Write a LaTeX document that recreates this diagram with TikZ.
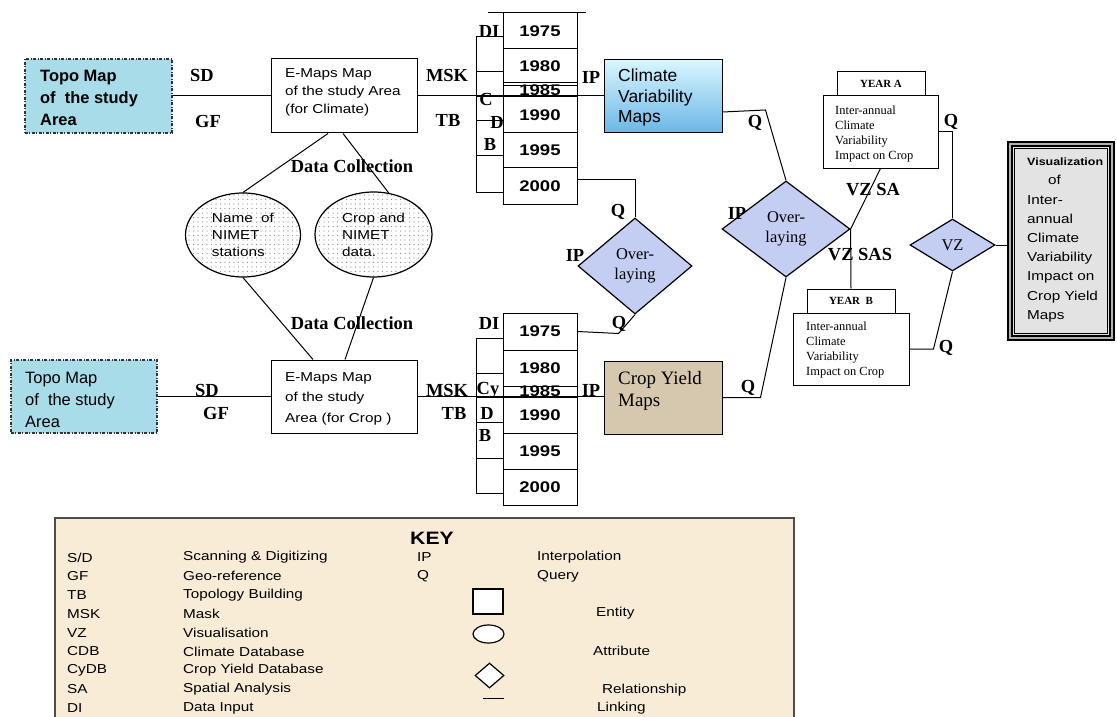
\documentclass[tikz,border=0pt]{standalone}
\usepackage{fontspec}
\setmainfont{Liberation Serif}
\setsansfont{Liberation Sans}
\newfontfamily\wsans[FakeStretch=1.18]{Liberation Sans}
\newfontfamily\yrsans[FakeStretch=1.2]{Liberation Sans}
\usetikzlibrary{shapes.geometric,patterns,patterns.meta,calc}
\definecolor{topoc}{HTML}{A8DCE8}
\definecolor{climT}{HTML}{D8F6FF}
\definecolor{climB}{HTML}{6CB6E6}
\definecolor{cropc}{HTML}{D6C8AE}
\definecolor{diac}{HTML}{C4CDF2}
\definecolor{keyc}{HTML}{F8ECD7}
\definecolor{visc}{HTML}{E3E3E3}
\begin{document}
\begin{tikzpicture}[x=1bp,y=-1bp,
  ln/.style={line width=1bp},
  sz/.style 2 args={minimum width=#1bp, minimum height=#2bp},
  ent/.style={draw, line width=1bp, fill=white, inner sep=0pt},
  topo/.style={draw=black!80, line width=1.5bp, dash pattern=on 3bp off 1.5bp on 1bp off 1.5bp, fill=topoc, inner sep=0pt},
  txt/.style={anchor=west, align=left, inner sep=0pt},
  lab/.style={inner sep=0pt, font=\bfseries\fontsize{18.5}{20}\selectfont},
  yr/.style={ent, minimum width=74bp, font=\yrsans\bfseries\fontsize{15.5}{16}\selectfont},
  sidecell/.style={ent, minimum width=27bp},
  dia/.style={diamond, draw, line width=1.2bp, fill=diac, inner sep=0pt, align=center, font=\fontsize{16.5}{19.5}\selectfont},
  attr/.style={ellipse, draw, line width=1.2bp, preaction={fill=white}, pattern={Dots[distance=4.5bp, radius=0.55bp]}, pattern color=gray!90, inner sep=0pt, align=left, font=\wsans\fontsize{13}{17}\selectfont},
  keytxt/.style={anchor=west, inner sep=0pt, font=\wsans\fontsize{13}{14}\selectfont},
  smallserif/.style={font=\fontsize{12.5}{15.3}\selectfont},
]
\fill[white] (0,0) rectangle (1117,717);
\useasboundingbox (0,0) rectangle (1117,717);

% ---------- top row (climate) ----------
\node[topo, sz={147}{74}] (topoA) at (98.5,96) {};
\node[txt, font=\sffamily\bfseries\fontsize{16.5}{22}\selectfont] (topoAt) at (40,98) {Topo Map\\of\ \ the study\\Area};
\node[ent, sz={146}{74}] (emA) at (344,96) {};
\node[txt, font=\wsans\fontsize{13}{18}\selectfont] (emAt) at (285,92) {E-Maps Map\\of the study Area\\(for Climate)};
\node[draw, line width=1bp, top color=climT, bottom color=climB, inner sep=0pt, sz={118}{73}] (climate) at (663,96.5) {};
\node[txt, font=\sffamily\fontsize{17.5}{20.5}\selectfont] (climatet) at (618,97.5) {Climate\\Variability\\Maps};

% year stack (climate)
\node[yr, minimum height=36bp] (t75) at (540,31) {1975};
\node[yr, minimum height=34bp] (t80) at (540,66) {1980};
\node[yr, minimum height=14bp] (t85) at (540,90) {1985};
\node[yr, minimum height=36bp] (t90) at (540,115) {1990};
\node[yr, minimum height=35bp] (t95) at (540,150.5) {1995};
\node[yr, minimum height=36bp] (t00) at (540,186) {2000};
\node[sidecell, minimum height=35bp] (sa1) at (489.5,54.5) {};
\node[sidecell, minimum height=25bp] (sa2) at (489.5,84.5) {};
\node[sidecell, minimum height=24bp] (sa3) at (489.5,109) {};
\node[sidecell, minimum height=35bp] (sa4) at (489.5,138.5) {};
\node[sidecell, minimum height=36bp] (sa5) at (489.5,174) {};
\draw[ln] ([xshift=-15bp]t75.north west) -- ([xshift=8bp]t75.north east);
\draw[ln] ([yshift=-3bp]t85.north west) -- ([yshift=-3bp]t85.north east);

% ---------- bottom row (crop) ----------
\node[topo, sz={146}{73}] (topoB) at (84,396.5) {};
\node[txt, font=\sffamily\fontsize{16.5}{22}\selectfont] (topoBt) at (25,400) {Topo Map\\of\ \ the study\\Area};
\node[ent, sz={146}{73}] (emB) at (344,396.5) {};
\node[txt, font=\wsans\fontsize{13}{20.5}\selectfont] (emBt) at (285,398.5) {E-Maps Map\\of the study\\Area (for Crop )};
\node[draw, line width=1bp, fill=cropc, inner sep=0pt, sz={118}{73}] (crop) at (663,397.5) {};
\node[txt, font=\fontsize{19}{22}\selectfont] (cropt) at (618,391) {Crop Yield\\Maps};

\node[yr, minimum height=37bp] (b75) at (540,331.5) {1975};
\node[yr, minimum height=36bp] (b80) at (540,368) {1980};
\node[yr, minimum height=11bp] (b85) at (540,391.5) {1985};
\node[yr, minimum height=36bp] (b90) at (540,415) {1990};
\node[yr, minimum height=36bp] (b95) at (540,451) {1995};
\node[yr, minimum height=36bp] (b00) at (540,487) {2000};
\node[sidecell, minimum height=35bp] (sb1) at (489.5,355.5) {};
\node[sidecell, minimum height=24bp] (sb2) at (489.5,385) {};
\node[sidecell, minimum height=25bp] (sb3) at (489.5,409.5) {};
\node[sidecell, minimum height=36bp] (sb4) at (489.5,440) {};
\node[sidecell, minimum height=35bp] (sb5) at (489.5,475.5) {};

% ---------- attributes ----------
\node[attr, sz={115}{84}] (ellL) at (243,235) {Name\ \ of\\NIMET\\stations};
\node[attr, sz={117}{85}] (ellR) at (373.5,234.5) {Crop and\\NIMET\\data.};

% ---------- relationships ----------
\node[dia, sz={114}{96}] (ovM) at (635,266) {Over-\\laying};
\node[dia, sz={128}{96}] (ovR) at (786,229) {Over-\\laying};
\node[dia, sz={85}{52}] (vz) at (952.5,245) {VZ};

% ---------- year A / year B ----------
\node[ent, sz={88}{24}, font=\bfseries\fontsize{11}{12}\selectfont] (yearAtab) at (881,84) {YEAR A};
\node[ent, sz={115}{72}] (yearA) at (880.5,132) {};
\node[txt, smallserif] (yearAt) at (835,134) {Inter-annual\\Climate\\Variability\\Impact on Crop};
\node[ent, sz={88}{24}, font=\bfseries\fontsize{11}{12}\selectfont] (yearBtab) at (851,301) {YEAR\ \ B};
\node[ent, sz={116}{72}] (yearB) at (851,349) {};
\node[txt, smallserif] (yearBt) at (806,350) {Inter-annual\\Climate\\Variability\\Impact on Crop};

% ---------- visualization ----------
\node[draw, line width=1.3bp, double=gray!60, double distance=2.5bp, fill=visc, inner sep=0pt, sz={102}{194}] (vis) at (1061,241) {};
\draw[line width=0.8bp] ([shift={(5bp,-5bp)}]vis.north west) rectangle ([shift={(-5bp,5bp)}]vis.south east);
\node[txt, font=\wsans\fontsize{13}{19.3}\selectfont] (vist) at (1027,240) {{\bfseries\fontsize{10.6}{19.3}\selectfont Visualization}\\\hspace*{21bp}of\\Inter-\\annual\\Climate\\Variability\\Impact on\\Crop Yield\\Maps};

% ---------- connectors ----------
\draw[ln] (topoA) -- (emA);
\draw[ln] (emA.east) -- (emA.east -| climate.west);
\draw[ln] ([yshift=-15.5bp]climate.east) -- ++(43bp,2bp) -- (ovR.north);
\draw[ln] ([yshift=6bp]t00.east) -| (ovM.north);
\draw[ln] (b75.east) -- ++(41bp,-2bp) -- (ovM.south);
\draw[ln] (crop.east) -- ++(38bp,0) -- (ovR.south);
\draw[ln] (ovR.east) -- (yearA.south);
\draw[ln] (ovR.east) -- (yearBtab.north);
\draw[ln] (yearA.east) -| (vz.north);
\draw[ln] (vz.east) -- (vz.east -| vis.west);
\draw[ln] (yearB.east) -- ++(24bp,0) -- (vz.south);
\draw[ln] ([xshift=-16bp]emA.south) -- (ellL.north);
\draw[ln] ([xshift=-1bp]emA.south) -- (ellR.70);
\draw[ln] (ellL.south) -- ([xshift=-31bp]emB.north);
\draw[ln] (ellR.south) -- ([xshift=1bp]emB.north);
\draw[ln] (topoB) -- (emB);
\draw[ln] (emB.east) -- (emB.east -| crop.west);

% ---------- labels ----------
\node[lab] (lSDa) at (202,75) {SD};
\node[lab] (lGFa) at (208,121) {GF};
\node[lab] (lDCa) at (352,166) {Data Collection};
\node[lab] (lMSKa) at (447,75) {MSK};
\node[lab] (lTBa) at (448,120) {TB};
\node[lab] (lDIa) at (489,31) {DI};
\node[lab] (lCa) at (486,99) {C};
\node[lab] (lDa) at (497,122) {D};
\node[lab] (lBa) at (490,144) {B};
\node[lab] (lIPa) at (591,77) {IP};
\node[lab] (lQ1) at (755,123) {Q};
\node[lab] (lQ2) at (618,212) {Q};
\node[lab] (lIPm) at (575,255) {IP};
\node[lab] (lQ3) at (619,324) {Q};
\node[lab] (lIPr) at (737,213) {IP};
\node[lab] (lVZSA) at (873,190) {VZ SA};
\node[lab] (lVZSAS) at (860,255) {VZ SAS};
\node[lab] (lQ4) at (951,122) {Q};
\node[lab] (lQ5) at (946,348) {Q};
\node[lab] (lQ6) at (748,388) {Q};
\node[lab] (lSDb) at (207,390) {SD};
\node[lab] (lGFb) at (216,413) {GF};
\node[lab] (lDCb) at (352,323) {Data Collection};
\node[lab] (lDIb) at (489,323) {DI};
\node[lab] (lMSKb) at (447,390) {MSK};
\node[lab] (lCyb) at (488,390) {Cy};
\node[lab] (lTBb) at (454,413) {TB};
\node[lab] (lDb) at (487,413) {D};
\node[lab] (lBb) at (485,435) {B};
\node[lab] (lIPb) at (591,390) {IP};

% ---------- key ----------
\node[draw=black!70, line width=1.5bp, fill=keyc, inner sep=0pt, anchor=north west, sz={739}{215}] (keybox) at (54,517) {};
\node[inner sep=0pt, font=\wsans\bfseries\fontsize{18}{20}\selectfont] (keyt) at (432,538) {KEY};
\node[keytxt] (k1a) at (67,557.5) {S/D};
\node[keytxt] (k2a) at (67,576.3) {GF};
\node[keytxt] (k3a) at (67,595.1) {TB};
\node[keytxt] (k4a) at (67,613.9) {MSK};
\node[keytxt] (k5a) at (67,632.7) {VZ};
\node[keytxt] (k6a) at (67,651.5) {CDB};
\node[keytxt] (k7a) at (67,670.3) {CyDB};
\node[keytxt] (k8a) at (67,689.1) {SA};
\node[keytxt] (k9a) at (67,707.9) {DI};
\node[keytxt] (k1b) at (183,557.5) {Scanning \& Digitizing};
\node[keytxt] (k2b) at (183,576.3) {Geo-reference};
\node[keytxt] (k3b) at (183,595.1) {Topology Building};
\node[keytxt] (k4b) at (183,613.9) {Mask};
\node[keytxt] (k5b) at (183,632.7) {Visualisation};
\node[keytxt] (k6b) at (183,651.5) {Climate Database};
\node[keytxt] (k7b) at (183,670.3) {Crop Yield Database};
\node[keytxt] (k8b) at (183,689.1) {Spatial Analysis};
\node[keytxt] (k9b) at (183,707.9) {Data Input};
\node[keytxt] (kIP) at (417,557.5) {IP};
\node[keytxt] (kQ) at (417,576.3) {Q};
\node[keytxt] (kIPd) at (537,557.5) {Interpolation};
\node[keytxt] (kQd) at (537,576.3) {Query};
\node[draw, line width=1.2bp, fill=white, inner sep=0pt, sz={30}{25}] (kent) at (488,601.5) {};
\node[keytxt] (kentt) at (596,613) {Entity};
\node[ellipse, draw, line width=1.2bp, fill=white, inner sep=0pt, sz={31}{18}] (katt) at (488.5,634) {};
\node[keytxt] (kattt) at (593,651) {Attribute};
\node[diamond, draw, line width=1.2bp, fill=white, inner sep=0pt, sz={29}{25}] (krel) at (489.5,675.5) {};
\node[keytxt] (krelt) at (602,690) {Relationship};
\coordinate (klinkA) at (483,698);
\coordinate (klinkB) at (504,698);
\draw[ln] (klinkA) -- (klinkB);
\node[keytxt] (klinkt) at (597,708) {Linking};
\end{tikzpicture}
\end{document}
